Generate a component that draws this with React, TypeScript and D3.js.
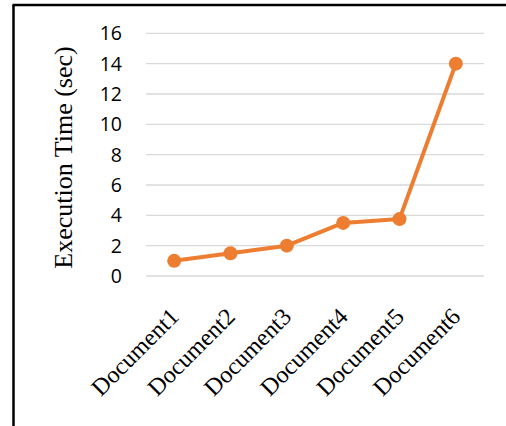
import React from "react";
import * as d3 from "d3";

const categories = ["Document1", "Document2", "Document3", "Document4", "Document5", "Document6"];
const values = [1, 1.5, 2, 3.5, 3.75, 14];
const yTicks = [0, 2, 4, 6, 8, 10, 12, 14, 16];

export default function App() {
  const W = 506, H = 426;
  const left = 146, right = 484, top = 33.3, bottom = 276;
  const x = d3.scalePoint<string>().domain(categories).range([left, right]).padding(0.5);
  const y = d3.scaleLinear().domain([0, 16]).range([bottom, top]);
  const line = d3.line<number>().x((_, i) => x(categories[i])!).y((d) => y(d));
  const color = "#ED7D31";
  return (
    <svg width={W} height={H} style={{ position: "absolute", left: 0, top: 0, background: "#fff" }}>
      <rect x={0} y={0} width={W} height={H} fill="#fff" />
      <line x1={13.5} y1={5} x2={13.5} y2={H} stroke="#000" strokeWidth={2.5} />
      <line x1={12.5} y1={5} x2={W} y2={5} stroke="#000" strokeWidth={2.5} />
      {yTicks.map((t) => (
        <g key={t}>
          <line x1={left} x2={right} y1={y(t)} y2={y(t)} stroke="#d9d9d9" strokeWidth={1.3} />
          <text x={122} y={y(t)} dy="0.36em" textAnchor="end" fontFamily="'Open Sans', sans-serif" fontSize={19.5} fill="#000">
            {t}
          </text>
        </g>
      ))}
      <text
        transform={`translate(72,157.5) rotate(-90)`}
        textAnchor="middle"
        fontFamily="'Liberation Serif', 'DejaVu Serif', serif"
        fontSize={26}
        fill="#000"
      >
        Execution Time (sec)
      </text>
      <path d={line(values) || ""} fill="none" stroke={color} strokeWidth={4} strokeLinejoin="round" />
      {values.map((v, i) => (
        <circle key={i} cx={x(categories[i])} cy={y(v)} r={7} fill={color} />
      ))}
      {categories.map((c) => (
        <text
          key={c}
          transform={`translate(${x(c)! + 6},${318}) rotate(-45)`}
          textAnchor="end"
          fontFamily="'Liberation Serif', serif"
          fontSize={24}
          fill="#000"
        >
          {c}
        </text>
      ))}
    </svg>
  );
}
